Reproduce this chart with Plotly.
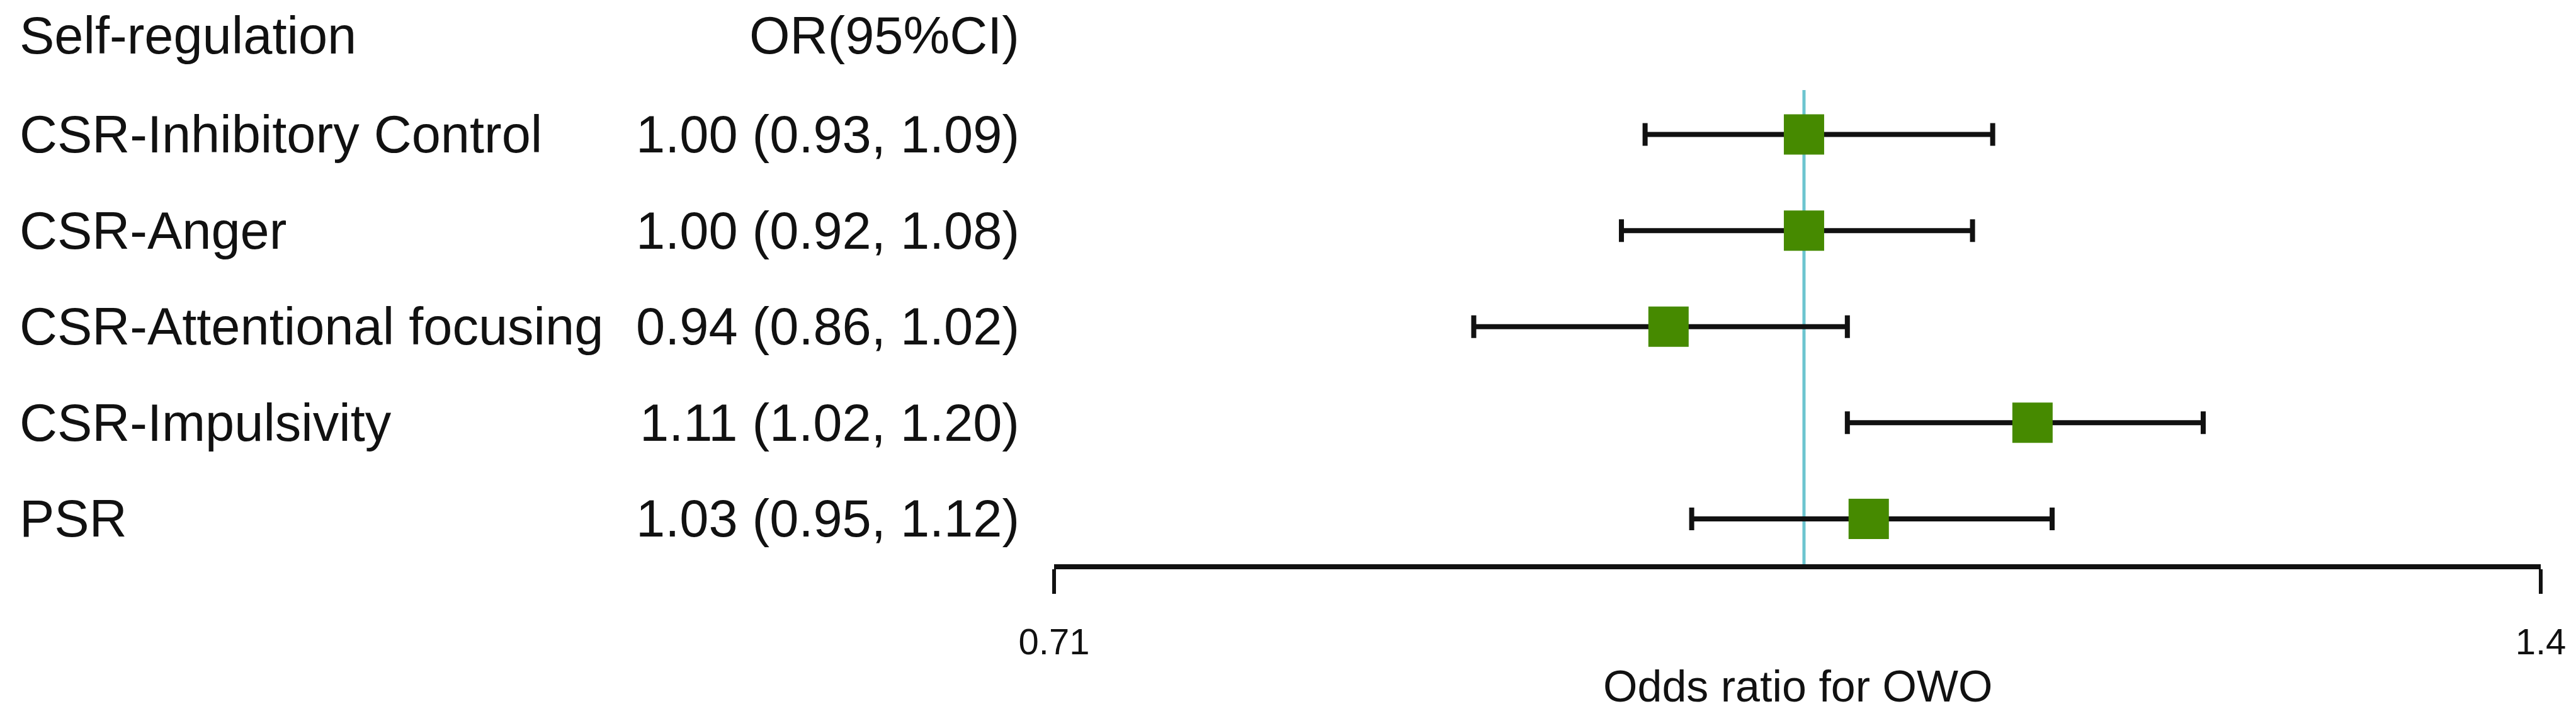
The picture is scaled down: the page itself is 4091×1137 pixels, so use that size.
import plotly.graph_objects as go
import math

# ---- data ----
header_left = "Self-regulation"
header_right = "OR(95%CI)"
categories = ["CSR-Inhibitory Control", "CSR-Anger", "CSR-Attentional focusing",
              "CSR-Impulsivity", "PSR"]
odds_ratio = [1.00, 1.00, 0.94, 1.11, 1.03]
ci_lower = [0.93, 0.92, 0.86, 1.02, 0.95]
ci_upper = [1.09, 1.08, 1.02, 1.20, 1.12]
x_ticks = [0.71, 1.4]
x_tick_labels = ["0.71", "1.4"]
reference_value = 1.0
x_title = "Odds ratio for OWO"

W, H = 4091, 1137
FONT = "Liberation Sans, Arial, sans-serif"
TXT = "#111111"

rows = list(range(1, len(categories) + 1))

fig = go.Figure()

# reference line
fig.add_shape(type="line", xref="x", yref="y",
              x0=reference_value, x1=reference_value, y0=0.537, y1=5.472,
              line=dict(color="#6cc5cf", width=5), layer="below")

fig.add_trace(go.Scatter(
    x=odds_ratio, y=rows, mode="markers",
    marker=dict(symbol="square", size=64, color="#468a00", line=dict(width=0)),
    error_x=dict(type="data", symmetric=False,
                 array=[u - o for u, o in zip(ci_upper, odds_ratio)],
                 arrayminus=[o - l for o, l in zip(odds_ratio, ci_lower)],
                 color=TXT, thickness=8, width=18),
    showlegend=False, hoverinfo="skip"))

LX, RX = 21 / W, 1613 / W
ann = []
ann.append(dict(text=header_left, x=LX, y=-0.03, xref="paper", yref="y",
                xanchor="left", yanchor="middle", showarrow=False))
ann.append(dict(text=header_right, x=RX, y=-0.03, xref="paper", yref="y",
                xanchor="right", yanchor="middle", showarrow=False))
for r, c, o, l, u in zip(rows, categories, odds_ratio, ci_lower, ci_upper):
    ann.append(dict(text=c, x=LX, y=r, xref="paper", yref="y",
                    xanchor="left", yanchor="middle", showarrow=False))
    ann.append(dict(text=f"{o:.2f} ({l:.2f}, {u:.2f})", x=RX, y=r,
                    xref="paper", yref="y",
                    xanchor="right", yanchor="middle", showarrow=False))
for a in ann:
    a["font"] = dict(family=FONT, size=83, color=TXT)

# axis title as annotation under the axis
ann.append(dict(text=x_title, x=0.5, y=(H - 1082) / H, xref="x domain", yref="paper",
                xanchor="center", yanchor="middle", showarrow=False,
                font=dict(family=FONT, size=70, color=TXT)))

fig.update_layout(
    width=W, height=H,
    margin=dict(l=0, r=0, t=0, b=0, autoexpand=False),
    paper_bgcolor="white", plot_bgcolor="white",
    annotations=ann,
    xaxis=dict(type="log", domain=[1666 / W, 4027 / W], automargin=False,
               range=[math.log10(x_ticks[0]), math.log10(x_ticks[-1])],
               tickvals=x_ticks, ticktext=x_tick_labels,
               ticks="outside", ticklen=39, tickwidth=6, tickcolor=TXT,
               ticklabelstandoff=26,
               showline=True, linewidth=8, linecolor=TXT,
               showgrid=False, zeroline=False,
               tickfont=dict(family=FONT, size=58, color=TXT)),
    yaxis=dict(domain=[(H - 888) / H, 1], range=[5.472, -0.347], automargin=False,
               visible=False, showgrid=False, zeroline=False),
)

fig.write_html("out.html")
